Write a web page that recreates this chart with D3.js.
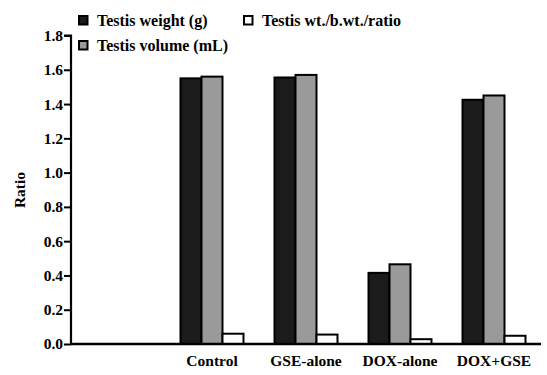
<!DOCTYPE html>
<html><head><meta charset="utf-8">
<script src="https://cdn.jsdelivr.net/npm/d3@7"></script>
<style>body{margin:0;background:#fff}svg{display:block}
svg text{font-family:"Liberation Serif",Tinos,"Times New Roman",Times,"DejaVu Serif","Noto Serif",serif !important;font-weight:bold}</style>
</head><body>
<svg id="c" width="547" height="375"></svg>
<script>
const categories = ["Control", "GSE-alone", "DOX-alone", "DOX+GSE"];
const seriesNames = ["Testis weight (g)", "Testis volume (mL)", "Testis wt./b.wt./ratio"];
const testisWeight = [1.55, 1.555, 0.415, 1.425];
const testisVolume = [1.56, 1.57, 0.465, 1.45];
const testisRatio = [0.06, 0.055, 0.028, 0.048];
const yTicks = [0.0, 0.2, 0.4, 0.6, 0.8, 1.0, 1.2, 1.4, 1.6, 1.8];
const colors = ["#1b1b1b", "#9a9a9a", "#ffffff"];

const series = [testisWeight, testisVolume, testisRatio];
const svg = d3.select("#c");
const x0 = 71, x1 = 541, yBase = 344, yTop = 35.5;
const y = d3.scaleLinear().domain([0, 1.8]).range([yBase, yTop]);
const step = (x1 - x0) / 5;
const x = d3.scaleBand().domain(categories).range([x0 + step, x1]).paddingInner(0.33).paddingOuter(0.165);
const xs = d3.scaleBand().domain([0,1,2]).range([0, x.bandwidth()]);

categories.forEach((c, i) => {
  const g = svg.append("g").attr("transform", `translate(${x(c)},0)`);
  series.forEach((s, k) => {
    g.append("rect")
      .attr("x", xs(k)).attr("width", xs.bandwidth())
      .attr("y", y(s[i])).attr("height", yBase - y(s[i]))
      .attr("fill", colors[k]).attr("stroke", "#000").attr("stroke-width", 2);
  });
});

const yAxis = d3.axisLeft(y).tickValues(yTicks).tickFormat(d3.format(".1f")).tickSize(7).tickPadding(1);
const ya = svg.append("g").attr("transform", `translate(${x0},0)`).call(yAxis);
ya.select(".domain").attr("stroke", "#000").attr("stroke-width", 2.2).attr("d", `M-7,${yTop}H0V${yBase}`);
ya.selectAll(".tick line").attr("stroke", "#000").attr("stroke-width", 2);
ya.selectAll(".tick text").attr("font-size", 15.5).attr("fill", "#000");

const xAxis = d3.axisBottom(x).tickSize(0).tickPadding(11);
const xa = svg.append("g").attr("transform", `translate(0,${yBase})`).call(xAxis);
xa.select(".domain").attr("stroke", "#000").attr("stroke-width", 2.5).attr("d", `M${x0},0H${x1}`);
xa.selectAll(".tick text").attr("font-size", 15.5).attr("fill", "#000");

svg.append("text").attr("transform", "translate(25,190) rotate(-90)").attr("text-anchor", "middle")
  .attr("font-size", 15.5).text("Ratio");

const legPos = [[78, 15], [78, 40], [243, 15]];
seriesNames.forEach((n, k) => {
  const [lx, ly] = legPos[k];
  svg.append("rect").attr("x", lx + 1).attr("y", ly + 1).attr("width", 8.5).attr("height", 8.5)
    .attr("fill", colors[k]).attr("stroke", "#000").attr("stroke-width", 2);
  svg.append("text").attr("x", lx + 19).attr("y", ly + 10.5).attr("font-size", 16).text(n);
});
</script>
</body></html>
